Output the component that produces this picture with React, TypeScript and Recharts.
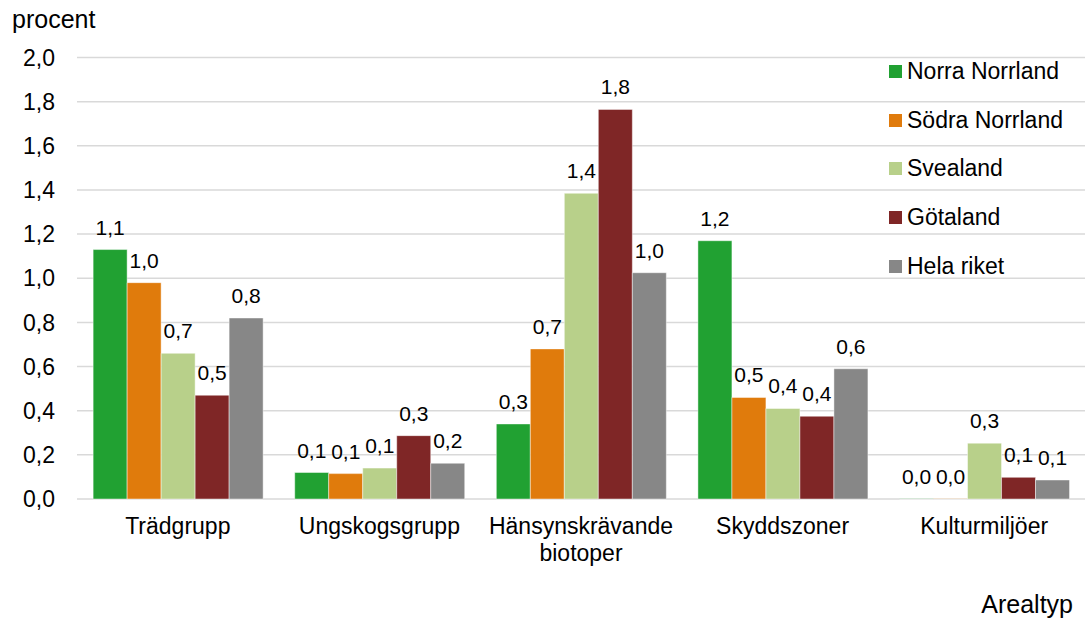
import { Bar, BarChart, CartesianGrid, Label, LabelList, XAxis, YAxis } from "recharts";

const categories = ["Trädgrupp", "Ungskogsgrupp", "Hänsynskrävande\nbiotoper", "Skyddszoner", "Kulturmiljöer"];
const norraNorrland = [1.13, 0.12, 0.34, 1.17, 0.001];
const sodraNorrland = [0.98, 0.115, 0.68, 0.46, 0.001];
const svealand = [0.66, 0.14, 1.385, 0.41, 0.253];
const gotaland = [0.47, 0.287, 1.765, 0.375, 0.098];
const helaRiket = [0.82, 0.162, 1.025, 0.59, 0.086];
const yTicks = [0, 0.2, 0.4, 0.6, 0.8, 1.0, 1.2, 1.4, 1.6, 1.8, 2.0];

const series = [
  { key: "norra", name: "Norra Norrland", color: "#21a132", values: norraNorrland },
  { key: "sodra", name: "Södra Norrland", color: "#e07b0c", values: sodraNorrland },
  { key: "svea", name: "Svealand", color: "#b8d08a", values: svealand },
  { key: "gota", name: "Götaland", color: "#7f2626", values: gotaland },
  { key: "hela", name: "Hela riket", color: "#878787", values: helaRiket },
];

const data = categories.map((cat, i) => {
  const row: Record<string, string | number> = { cat };
  series.forEach((s) => (row[s.key] = s.values[i]));
  return row;
});

const FONT = "'Liberation Sans', Arial, sans-serif";
const fmt = (v: any) => Number(v).toFixed(1).replace(".", ",");

function CatTick(props: any) {
  const { x, y, payload } = props;
  const lines = String(payload.value).split("\n");
  return (
    <text x={x} y={y} textAnchor="middle" fontSize={23} fill="#000" fontFamily={FONT}>
      {lines.map((l, i) => (
        <tspan key={i} x={x} dy={27}>
          {l}
        </tspan>
      ))}
    </text>
  );
}

// legend drawn as an overlay so it doesn't shrink the plot
function LegendBox() {
  return (
    <div
      style={{
        position: "absolute",
        left: 889,
        top: 47,
        fontFamily: FONT,
        fontSize: 23,
        color: "#000",
      }}
    >
      {series.map((s) => (
        <div key={s.key} style={{ display: "flex", alignItems: "center", height: 48.7 }}>
          <span style={{ width: 13, height: 13, background: s.color, marginRight: 5, display: "inline-block" }} />
          <span>{s.name}</span>
        </div>
      ))}
    </div>
  );
}

export default function App() {
  return (
    <div style={{ position: "absolute", left: 0, top: 0, width: 1085, height: 618, background: "#fff" }}>
      <BarChart
        width={1085}
        height={618}
        data={data}
        margin={{ top: 57.5, right: 0, left: 0, bottom: 0 }}
        barCategoryGap="8%"
        barGap={0}
        style={{ fontFamily: FONT }}
      >
        <CartesianGrid vertical={false} stroke="#d9d9d9" strokeWidth={1.5} />
        <XAxis
          dataKey="cat"
          height={119}
          tickLine={false}
          axisLine={false}
          interval={0}
          tick={<CatTick />}
        >
          <Label
            content={() => (
              <text x={1073} y={613} textAnchor="end" fontSize={25} fill="#000" fontFamily={FONT}>
                Arealtyp
              </text>
            )}
          />
        </XAxis>
        <YAxis
          width={77}
          domain={[0, 2]}
          ticks={yTicks}
          tickFormatter={fmt}
          tickLine={false}
          axisLine={false}
          tickSize={6}
          tickMargin={16}
          tick={{ fontSize: 23, fill: "#000", fontFamily: FONT }}
        >
          <Label
            content={() => (
              <text x={12} y={28} fontSize={25} fill="#000" fontFamily={FONT}>
                procent
              </text>
            )}
          />
        </YAxis>
        {series.map((s) => (
          <Bar
            key={s.key}
            dataKey={s.key}
            name={s.name}
            fill={s.color}
            stroke="#ffffff"
            strokeOpacity={0.45}
            strokeWidth={1}
            isAnimationActive={false}
          >
            <LabelList
              dataKey={s.key}
              position="top"
              offset={15}
              formatter={fmt}
              fontSize={21}
              fill="#000"
              fontFamily={FONT}
            />
          </Bar>
        ))}
      </BarChart>
      <LegendBox />
    </div>
  );
}
